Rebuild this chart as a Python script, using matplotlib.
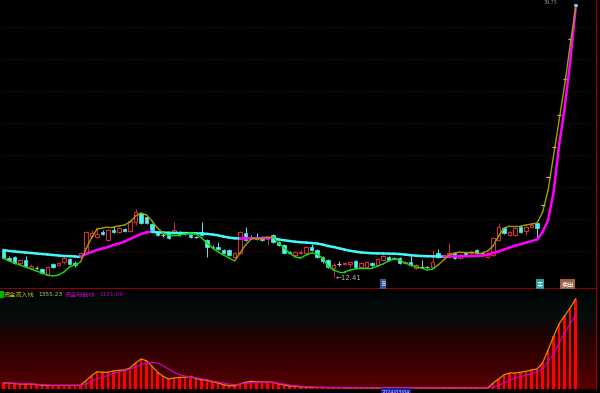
import numpy as np
import matplotlib.pyplot as plt
from matplotlib.collections import LineCollection
from matplotlib.patches import Rectangle

plt.rcParams['font.family'] = ['Noto Sans CJK SC', 'DejaVu Sans']

# daily candles (price)
opens = [15.11, 14.3, 14.4, 13.8, 14.1, 13.3, 13.3, 13.2, 12.6, 13.7,
         13.6, 13.9, 14.2, 13.8, 14.4, 14.8, 16.5, 16.4, 16.9, 16.1,
         17.1, 16.9, 17.2, 17.0, 17.9, 18.8, 18.4, 17.7, 16.9, 16.6,
         16.8, 16.8, 16.9, 16.8, 16.6, 16.4, 16.9, 16.1, 15.4, 15.4,
         15.1, 15.1, 14.4, 14.8, 16.8, 16.4, 16.3, 16.4, 16.2, 16.6,
         15.9, 15.6, 14.9, 14.6, 14.8, 14.8, 15.4, 15.1, 14.4, 14.1,
         13.3, 13.7, 13.7, 13.75, 14.0, 13.4, 13.4, 13.8, 13.6, 14.1,
         14.4, 14.35, 14.3, 13.8, 13.9, 13.3, 13.4, 13.4, 13.4, 14.8,
         14.4, 14.4, 14.8, 14.3, 14.8, 14.8, 15.1, 14.8, 14.4, 14.6,
         16.1, 17.3, 16.6, 16.6, 17.4, 17.0, 17.4, 17.8, 19.61, 22.41,
         25.41, 28.61, 32.21, 36.21, 39.7]
closes = [14.31, 14.1, 13.8, 14.1, 13.5, 13.5, 13.3, 12.8, 13.4, 13.4,
          13.8, 14.3, 13.7, 13.6, 14.8, 16.9, 16.8, 16.7, 16.7, 17.1,
          16.9, 17.3, 17.0, 18.0, 18.9, 17.8, 17.8, 17.1, 16.6, 16.6,
          16.3, 17.1, 16.7, 16.8, 16.4, 16.4, 16.6, 15.4, 15.4, 15.2,
          14.8, 14.6, 14.8, 16.9, 16.1, 16.3, 16.2, 16.1, 16.4, 15.9,
          15.6, 14.8, 14.8, 14.9, 14.9, 15.4, 15.1, 14.4, 14.0, 13.4,
          13.6, 13.7, 13.8, 13.9, 13.4, 13.8, 13.9, 13.6, 14.2, 14.5,
          14.1, 14.25, 13.8, 13.9, 13.6, 13.6, 13.4, 13.4, 13.9, 14.4,
          14.4, 14.8, 14.3, 14.6, 14.6, 14.9, 14.8, 14.8, 14.8, 16.3,
          17.4, 16.8, 16.9, 17.3, 16.9, 17.4, 17.6, 17.3, 19.61, 22.41,
          25.41, 28.61, 32.21, 36.21, 39.5]
highs = [15.2, 14.5, 14.5, 14.2, 14.5, 13.7, 13.5, 13.3, 13.5, 13.8,
         13.9, 14.4, 14.3, 14.0, 14.9, 17.0, 17.1, 17.4, 17.1, 17.2,
         17.5, 17.4, 17.3, 18.1, 19.2, 18.9, 18.5, 17.8, 17.0, 16.8,
         16.9, 17.9, 17.0, 16.9, 16.7, 16.5, 17.9, 16.2, 15.6, 15.9,
         15.2, 15.2, 14.9, 17.0, 17.4, 16.6, 16.8, 16.5, 16.5, 16.7,
         16.0, 15.7, 15.0, 15.0, 15.1, 15.5, 15.7, 15.2, 14.5, 14.2,
         13.8, 14.0, 13.9, 14.0, 14.1, 13.9, 14.0, 13.9, 14.3, 14.6,
         14.5, 14.4, 14.4, 14.0, 14.5, 13.7, 14.1, 13.5, 15.1, 15.2,
         14.6, 15.8, 14.9, 14.7, 14.9, 15.0, 15.2, 14.9, 14.9, 16.4,
         17.8, 17.4, 17.0, 17.4, 17.5, 17.5, 17.7, 17.9, 19.61, 22.41,
         25.41, 28.61, 32.21, 36.21, 39.75]
lows = [14.2, 14.0, 13.7, 13.7, 13.4, 13.2, 13.2, 12.7, 12.5, 13.3,
        13.5, 13.7, 13.6, 13.4, 14.3, 14.7, 16.4, 16.3, 16.6, 16.0,
        16.8, 16.8, 16.9, 16.9, 17.6, 17.7, 17.7, 17.0, 16.5, 16.4,
        16.2, 16.7, 16.5, 16.6, 16.3, 16.3, 16.5, 14.4, 15.2, 15.1,
        14.7, 14.5, 14.2, 14.7, 16.0, 16.2, 16.1, 16.0, 15.6, 15.8,
        15.5, 14.7, 14.7, 14.5, 14.7, 14.7, 15.0, 14.3, 13.8, 13.3,
        12.41, 13.5, 13.6, 13.4, 13.3, 13.3, 13.3, 13.5, 13.5, 14.0,
        14.0, 14.2, 13.7, 13.7, 13.5, 13.2, 13.3, 13.3, 13.3, 14.3,
        14.3, 14.3, 14.2, 14.2, 14.5, 14.7, 14.7, 14.7, 14.3, 14.5,
        16.0, 16.7, 16.5, 16.5, 16.8, 16.6, 17.3, 16.4, 19.61, 22.41,
        25.41, 28.61, 32.21, 36.21, 39.45]

# fast trend line (green / olive) and slow trend line (cyan / magenta)
fast_line = [14.31, 14.01, 13.81, 13.61, 13.41, 13.21, 13.01, 12.81, 12.61, 12.51,
             12.61, 12.91, 13.41, 13.61, 13.91, 15.21, 16.31, 17.21, 17.31, 17.41,
             17.41, 17.51, 17.61, 17.91, 18.51, 18.81, 18.61, 18.01, 17.31, 16.81,
             16.61, 16.61, 16.61, 16.71, 16.81, 16.71, 16.31, 15.81, 15.31, 14.91,
             14.61, 14.31, 14.01, 14.81, 15.61, 16.21, 16.31, 16.31, 16.41, 16.41,
             15.81, 15.31, 14.81, 14.41, 14.31, 14.61, 14.81, 14.71, 14.31, 13.51,
             13.11, 12.91, 12.91, 13.11, 13.21, 13.31, 13.31, 13.31, 13.51, 13.71,
             14.01, 14.21, 14.11, 13.81, 13.61, 13.41, 13.31, 13.11, 13.21, 13.61,
             14.11, 14.61, 14.81, 14.91, 14.91, 14.91, 14.81, 14.81, 15.01, 15.51,
             16.51, 17.31, 17.51, 17.51, 17.51, 17.61, 17.71, 17.81, 18.91, 21.11,
             24.61, 28.11, 31.61, 35.61, 39.31]
slow_line = [15.11, 15.01, 14.96, 14.91, 14.86, 14.81, 14.76, 14.71, 14.66, 14.61,
             14.56, 14.51, 14.50, 14.46, 14.41, 14.71, 14.91, 15.11, 15.26, 15.41,
             15.61, 15.76, 15.96, 16.21, 16.46, 16.71, 16.88, 16.92, 16.88, 16.85,
             16.83, 16.82, 16.81, 16.80, 16.79, 16.78, 16.76, 16.72, 16.66, 16.58,
             16.45, 16.35, 16.28, 16.26, 16.27, 16.28, 16.29, 16.30, 16.31, 16.32,
             16.16, 16.09, 16.01, 15.94, 15.89, 15.85, 15.81, 15.76, 15.66, 15.51,
             15.41, 15.28, 15.15, 15.03, 14.94, 14.87, 14.82, 14.79, 14.77, 14.76,
             14.75, 14.74, 14.71, 14.65, 14.59, 14.54, 14.51, 14.49, 14.48, 14.47,
             14.46, 14.47, 14.48, 14.49, 14.50, 14.51, 14.53, 14.55, 14.63, 14.81,
             14.96, 15.16, 15.36, 15.53, 15.69, 15.85, 16.01, 16.16, 16.91, 18.11,
             20.91, 25.61, 29.31, 33.91, 39.31]
# bar ranges where the fast line is drawn in its "up" colour
fast_up_ranges = [(14, 28), (42, 48), (79, 103)]

# lower panel: 资金流入线 (bars + line) and 资金动能线
inflow = [126, 126, 119, 111, 111, 111, 104, 92, 92, 89,
          92, 92, 92, 92, 92, 160, 233, 291, 283, 283,
          302, 312, 316, 346, 419, 477, 452, 370, 283, 224,
          184, 199, 209, 209, 224, 189, 174, 165, 145, 126,
          101, 86, 86, 111, 136, 151, 141, 141, 141, 136,
          116, 97, 82, 78, 70, 66, 63, 60, 62, 58,
          57, 59, 56, 55, 57, 58, 56, 55, 54, 56,
          57, 55, 54, 56, 58, 57, 55, 54, 53, 55,
          56, 54, 53, 55, 54, 56, 55, 54, 53, 126,
          184, 247, 272, 272, 283, 297, 316, 331, 419, 613,
          809, 994, 1111, 1224, 1355.23]
energy = [126, 126, 124, 120, 117, 113, 108, 102, 97, 94,
          92, 92, 92, 92, 92, 111, 155, 184, 209, 239,
          268, 287, 306, 331, 360, 394, 419, 429, 419, 379,
          331, 283, 247, 228, 218, 203, 189, 174, 155, 141,
          126, 111, 101, 111, 121, 126, 130, 136, 136, 130,
          121, 111, 97, 86, 78, 72, 67, 63, 62, 61,
          60, 59, 59, 58, 58, 57, 57, 57, 56, 56,
          56, 56, 56, 56, 56, 56, 56, 56, 56, 56,
          56, 55, 55, 55, 55, 55, 55, 55, 55, 67,
          92, 126, 165, 199, 218, 239, 262, 291, 331, 444,
          555, 711, 858, 994, 1121.09]

labels = ['资金流入线', '资金动能线']

RED = '#d03030'
CYAN = '#50f0f0'
n = len(closes)
x = np.arange(n)
o = np.array(opens)
c = np.array(closes)
h = np.array(highs)
l = np.array(lows)


def two_colour_line(ax, xs, ys, flags, col_on, col_off, lw, z):
    pts = np.column_stack([xs, ys])
    segs = np.stack([pts[:-1], pts[1:]], axis=1)
    cols = [col_on if f else col_off for f in flags]
    ax.add_collection(LineCollection(segs, colors=cols, linewidths=lw,
                                     zorder=z, capstyle='round'))


fig = plt.figure(figsize=(6, 3.93), dpi=100, facecolor='black')
ax = fig.add_axes([0, 105 / 393, 596 / 600, 288 / 393], facecolor='black')
ax2 = fig.add_axes([0, 4 / 393, 596 / 600, 100 / 393], facecolor='black')

xlim = (-0.636, 107.7)
for a in (ax, ax2):
    a.set_xlim(*xlim)
    a.tick_params(left=False, right=False, bottom=False, top=False,
                  labelleft=False, labelbottom=False)
    for s in a.spines.values():
        s.set_visible(False)
    a.spines['right'].set_visible(True)
    a.spines['right'].set_color('#a00000')
ax.spines['bottom'].set_visible(True)
ax.spines['bottom'].set_color('#900000')

# ---- upper panel ----
ax.set_ylim(11.31, 40.11)
ax.set_yticks(np.arange(15.01, 40, 3.2))
ax.yaxis.grid(True, color='#6a0000', linestyle=(0, (1, 2)), linewidth=0.6)
ax.set_axisbelow(True)

up = c > o
dn = c < o
eq = c == o
ax.bar(x[up], (c - o)[up], bottom=o[up], width=0.62, facecolor='black',
       edgecolor=RED, linewidth=0.8, zorder=3)
ax.bar(x[dn], (o - c)[dn], bottom=c[dn], width=0.62, color=CYAN,
       edgecolor=CYAN, linewidth=0.5, zorder=3)
body_top = np.maximum(o, c)
body_bot = np.minimum(o, c)
wick_col = np.where(up, RED, np.where(dn, CYAN, '#c0c0c0'))
ax.vlines(x, body_top, h, colors=wick_col, linewidth=0.7, zorder=2)
ax.vlines(x, l, body_bot, colors=wick_col, linewidth=0.7, zorder=2)
ax.hlines(c[eq], x[eq] - 0.35, x[eq] + 0.35, colors='#c0c0c0',
          linewidth=0.9, zorder=3)

slow = np.array(slow_line)
fast = np.array(fast_line)
slow_rising = np.diff(slow) >= 0
two_colour_line(ax, x, slow, slow_rising, '#ff00ff', '#40f8f8', 1.8, 4)
fast_up = [any(a <= i <= b for a, b in fast_up_ranges) for i in range(n - 1)]
two_colour_line(ax, x, fast, fast_up, '#a0a000', '#10e010', 1.0, 5)

imin = int(np.argmin(l))
ax.text(imin + 0.3, l[imin] - 0.05, '\u2190' + f'{l[imin]:.2f}', color='#b0b0b0',
        fontsize=5, ha='left', va='center', family=['DejaVu Sans'])
imax = int(np.argmax(h))
ax.text(imax - 4.5, 40.1, f'{h[imax]:.2f}', color='#909090', fontsize=3.5,
        ha='center', va='top', family=['DejaVu Sans'])

# signal boxes near the bottom of the price panel
for xi, txt, col in [(69, 'B', '#3a5a9a'), (97.5, '买', '#2a9a9a'),
                     (102.5, '卖出', '#a06048')]:
    ax.text(xi, 11.72, txt, color='white', fontsize=4.5, ha='center',
            va='center', zorder=6,
            bbox=dict(boxstyle='square,pad=0.15', facecolor=col,
                      edgecolor='none'))

# ---- lower panel ----
ax2.set_ylim(38, 1502)
t = np.linspace(0, 1, 256)
grad = np.zeros((256, 1, 3))
stops = [0, 0.1, 0.25, 0.55, 1.0]
grad[:, 0, 0] = np.interp(t, stops, [0, 0, 0.02, 0.16, 0.34])
grad[:, 0, 1] = np.interp(t, stops, [0, 0.03, 0.05, 0.0, 0.0])
grad[:, 0, 2] = np.interp(t, stops, [0, 0.03, 0.05, 0.0, 0.0])
ax2.imshow(grad, extent=[xlim[0], xlim[1], 38, 1502], aspect='auto',
           origin='upper', zorder=0)

inf = np.array(inflow)
ax2.bar(x, inf - 38, bottom=38, width=0.45, color='#ff0000', zorder=2)
ax2.plot(x, inf, color='#d89000', linewidth=0.9, zorder=3)
ax2.plot(x, energy, color='#d000d0', linewidth=0.8, zorder=4)

# legend line of the lower panel
fig.patches.append(Rectangle((0, 1 - 297 / 393), 3 / 600, 6 / 393,
                             transform=fig.transFigure, color='#00b000'))
ty = 1 - 294.5 / 393
fig.text(4 / 600, ty, labels[0], color='#c8c800', fontsize=4.4, va='center')
fig.text(38 / 600, ty, f'{inflow[-1]:.2f}', color='#c8c860', fontsize=4.2,
         va='center', family=['DejaVu Sans'])
fig.text(65 / 600, ty, labels[1], color='#c000c0', fontsize=4.4, va='center')
fig.text(99 / 600, ty, f'{energy[-1]:.2f}', color='#c000c0', fontsize=4.2,
         va='center', family=['DejaVu Sans'])

# date box at the bottom edge
fig.text(396 / 600, 1.5 / 393, '2024/03/04', color='#d0d0ff', fontsize=3.5,
         ha='center', va='center', family=['DejaVu Sans'],
         bbox=dict(boxstyle='square,pad=0.2', facecolor='#2020a0',
                   edgecolor='none'))

fig.savefig('out.png', dpi=100, facecolor='black')
